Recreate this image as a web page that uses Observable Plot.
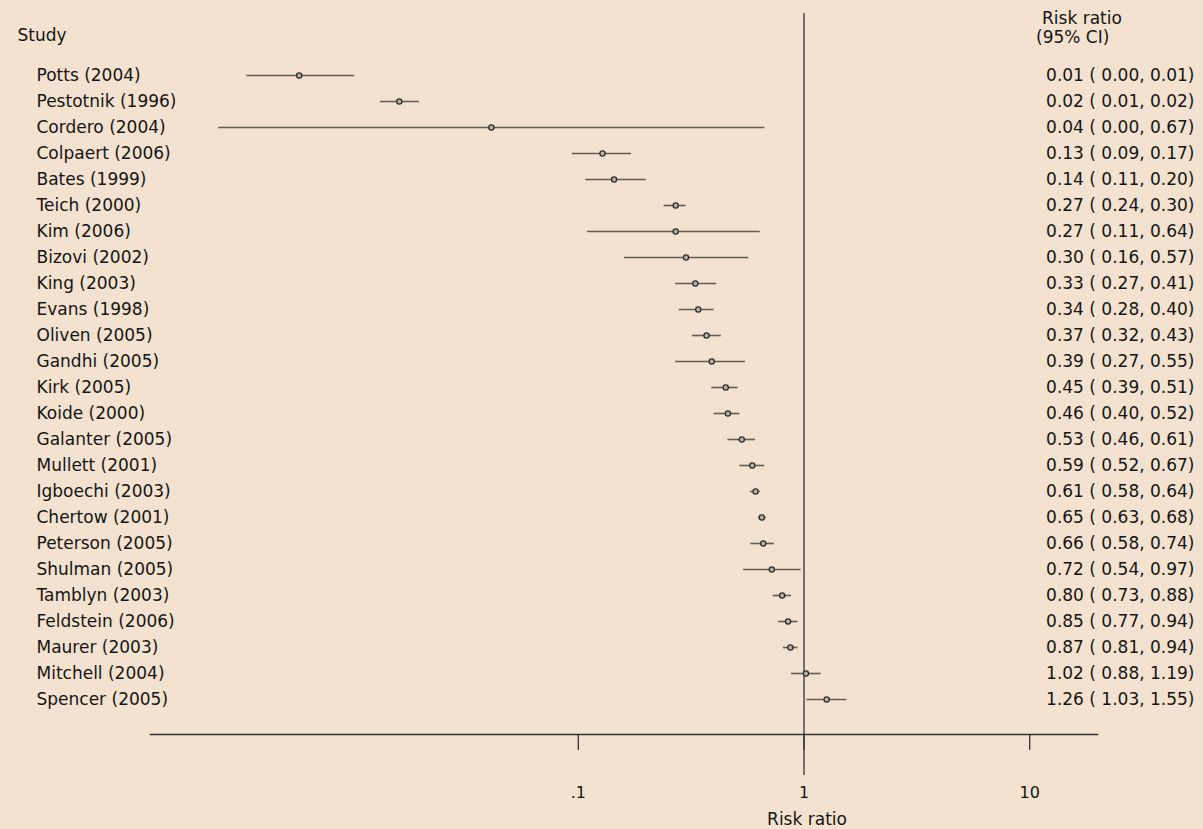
<!DOCTYPE html>
<html><head><meta charset="utf-8">
<script src="https://cdn.jsdelivr.net/npm/d3@7"></script>
<script src="https://cdn.jsdelivr.net/npm/@observablehq/plot@0.6"></script>
<style>html,body{margin:0;padding:0;background:#f3e2cf;overflow:hidden;}</style>
</head><body><div id="chart"></div>
<script>
const studies = ["Potts (2004)","Pestotnik (1996)","Cordero (2004)","Colpaert (2006)","Bates (1999)","Teich (2000)","Kim (2006)","Bizovi (2002)","King (2003)","Evans (1998)","Oliven (2005)","Gandhi (2005)","Kirk (2005)","Koide (2000)","Galanter (2005)","Mullett (2001)","Igboechi (2003)","Chertow (2001)","Peterson (2005)","Shulman (2005)","Tamblyn (2003)","Feldstein (2006)","Maurer (2003)","Mitchell (2004)","Spencer (2005)"];
const estimates = [0.0058,0.0161,0.0412,0.128,0.144,0.27,0.27,0.30,0.33,0.34,0.37,0.39,0.45,0.46,0.53,0.59,0.61,0.65,0.66,0.72,0.80,0.85,0.87,1.02,1.26];
const lower = [0.0034,0.0133,0.00255,0.094,0.108,0.24,0.11,0.16,0.27,0.28,0.32,0.27,0.39,0.40,0.46,0.52,0.58,0.63,0.58,0.54,0.73,0.77,0.81,0.88,1.03];
const upper = [0.0102,0.0198,0.672,0.172,0.20,0.30,0.64,0.57,0.41,0.40,0.43,0.55,0.51,0.52,0.61,0.67,0.64,0.68,0.74,0.97,0.88,0.94,0.94,1.19,1.55];
const xTicks = [0.1, 1, 10];
const xTickLabels = [".1", "1", "10"];
const studyHeader = "Study";
const ciHeader1 = "Risk ratio";
const ciHeader2 = "(95% CI)";
const xLabel = "Risk ratio";

const rows = studies.map((s, i) => ({
  study: s, est: estimates[i], lo: lower[i], hi: upper[i],
  label: `${estimates[i].toFixed(2)} ( ${lower[i].toFixed(2)}, ${upper[i].toFixed(2)})`
}));

const W = 1203, H = 829;
const mL = 150, mR = 106, mT = 13, mB = 95;
const ink = "#151515";

const chart = Plot.plot({
  width: W, height: H,
  marginLeft: mL, marginRight: mR, marginTop: mT, marginBottom: mB,
  style: {background: "#f3e2cf", fontFamily: "'DejaVu Sans', sans-serif", fontSize: "17px", color: ink},
  x: {type: "log", domain: [0.001272, 19.97], range: [150, 1097]},
  y: {type: "point", domain: studies, range: [68, 705], padding: 0, axis: null},
  marks: [
    Plot.frame({anchor: "bottom", stroke: "#333", strokeWidth: 1.6}),
    Plot.ruleX([1], {stroke: "#333", strokeWidth: 1.3, insetTop: 0, insetBottom: -41}),
    Plot.axisX({ticks: xTicks, tickFormat: (d) => xTickLabels[xTicks.indexOf(d)], tickSize: 16, tickPadding: 36, fontSize: 16, stroke: "#333", strokeWidth: 1.3, label: null, fill: ink}),
    Plot.ruleY(rows, {y: "study", x1: "lo", x2: "hi", stroke: "#625c56", strokeWidth: 1.6}),
    Plot.dot(rows, {x: "est", y: "study", r: 2.6, stroke: "#2e2e2e", strokeWidth: 1.3, fill: "#b9b0a6"}),
    Plot.text(rows, {y: "study", text: "study", frameAnchor: "left", dx: 36 - mL, textAnchor: "start", lineAnchor: "middle", fill: ink, fontSize: 17}),
    Plot.text(rows, {y: "study", text: "label", frameAnchor: "right", dx: 1194 - (W - mR), textAnchor: "end", lineAnchor: "middle", fill: ink, fontSize: 17}),
    Plot.text([studyHeader], {text: d => d, frameAnchor: "top-left", dx: 17 - mL, dy: 35.5 - mT, textAnchor: "start", lineAnchor: "middle", fill: ink, fontSize: 17}),
    Plot.text([ciHeader1], {text: d => d, frameAnchor: "top-right", dx: 1041.5 - (W - mR), dy: 18.5 - mT, textAnchor: "start", lineAnchor: "middle", fill: ink, fontSize: 17}),
    Plot.text([ciHeader2], {text: d => d, frameAnchor: "top-right", dx: 1035.5 - (W - mR), dy: 37 - mT, textAnchor: "start", lineAnchor: "middle", fill: ink, fontSize: 17}),
    Plot.text([xLabel], {x: () => 1, text: d => d, frameAnchor: "bottom", dx: 3, dy: 819.5 - (H - mB), textAnchor: "middle", lineAnchor: "middle", fill: ink, fontSize: 17})
  ]
});
document.getElementById("chart").appendChild(chart);
</script>
</body></html>
